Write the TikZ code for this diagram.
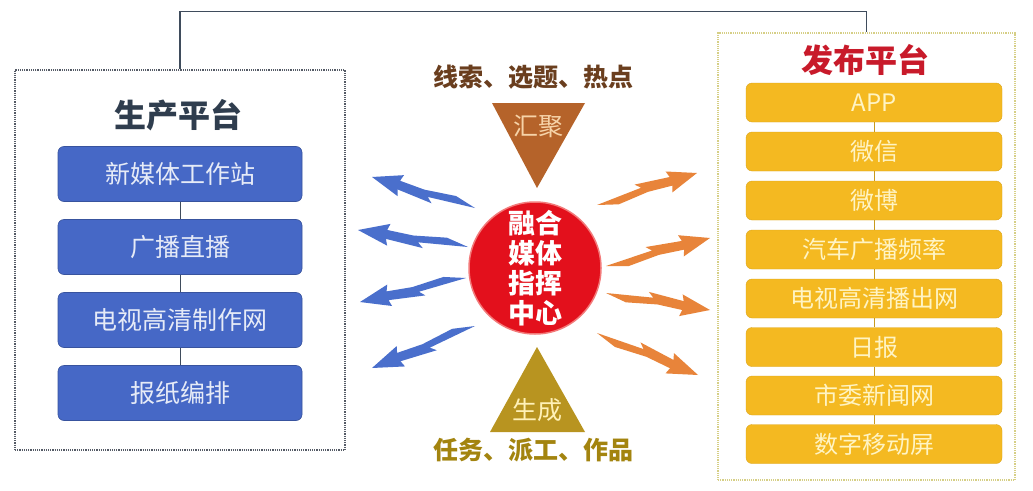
\documentclass[tikz,border=0pt]{standalone}
\usepackage{fontspec}
\setmainfont{Noto Sans CJK SC}
\usetikzlibrary{calc}
\definecolor{frameL}{HTML}{555B66}
\definecolor{frameR}{HTML}{D6CF86}
\definecolor{linkC}{HTML}{3F4C5C}
\definecolor{blueBox}{HTML}{4668C6}
\definecolor{blueTxt}{HTML}{E6EBF7}
\definecolor{yelBox}{HTML}{F4B921}
\definecolor{yelTxt}{HTML}{FFF4C4}
\definecolor{yelLink}{HTML}{C89A1E}
\definecolor{hubRed}{HTML}{E3101C}
\definecolor{hubEdge}{HTML}{F37A7A}
\definecolor{triTop}{HTML}{B5632A}
\definecolor{triTopTxt}{HTML}{F6D3A8}
\definecolor{triBot}{HTML}{B89420}
\definecolor{triBotTxt}{HTML}{FFF1B8}
\definecolor{topTxt}{HTML}{6A3E1E}
\definecolor{botTxt}{HTML}{A3840F}
\definecolor{arrBlue}{HTML}{4A6FCC}
\definecolor{arrOrange}{HTML}{E8843A}
\definecolor{titleL}{HTML}{2F3D4E}
\definecolor{titleR}{HTML}{C81A2A}
\tikzset{
  bluebox/.style={rectangle, rounded corners=6pt, fill=blueBox, draw=blueBox!80!black, line width=0.6pt,
    minimum width=244pt, minimum height=55pt, text=blueTxt, font=\fontsize{25}{27}\selectfont, inner sep=0pt},
  yelbox/.style={rectangle, rounded corners=6pt, fill=yelBox, draw=yelBox!90!black, line width=0.4pt,
    minimum width=256pt, minimum height=39pt, text=yelTxt, font=\fontsize{24}{26}\selectfont, inner sep=0pt},
  jagarrow/.style={to path={
    -- ($(\tikztostart)!0.45!(\tikztotarget)!3pt!90:(\tikztotarget)$)
    -- ($(\tikztostart)!0.40!(\tikztotarget)!8pt!90:(\tikztotarget)$)
    -- ($(\tikztostart)!0.74!(\tikztotarget)!4.5pt!90:(\tikztotarget)$)
    -- ($(\tikztostart)!0.72!(\tikztotarget)!11pt!90:(\tikztotarget)$)
    -- (\tikztotarget)
    -- ($(\tikztostart)!0.72!(\tikztotarget)!11pt!-90:(\tikztotarget)$)
    -- ($(\tikztostart)!0.74!(\tikztotarget)!4.5pt!-90:(\tikztotarget)$)
    -- ($(\tikztostart)!0.50!(\tikztotarget)!3pt!-90:(\tikztotarget)$)
    -- ($(\tikztostart)!0.20!(\tikztotarget)!6pt!-90:(\tikztotarget)$)
    -- cycle}}
}
\begin{document}
\begin{tikzpicture}[x=1pt,y=-1pt]
\useasboundingbox (0,0) rectangle (1033,490);
\fill[white] (0,0) rectangle (1033,490);

% frames
\node[draw=frameL, densely dotted, line width=1.2pt, minimum width=330pt, minimum height=380pt, inner sep=0pt] (lf) at (180,260) {};
\node[draw=frameR, densely dotted, line width=1.2pt, minimum width=297pt, minimum height=447pt, inner sep=0pt] (rf) at (866.5,256.5) {};
\draw[linkC, line width=1.3pt] (lf.north) -- ++(0,-58) -| (rf.north);

% titles
\node[font=\fontsize{32}{34}\selectfont\bfseries, text=titleL] (tl) at (178,115) {生产平台};
\node[font=\fontsize{32}{34}\selectfont\bfseries, text=titleR] (tr) at (865,60) {发布平台};

% left boxes
\node[bluebox] (b1) at (180,174) {新媒体工作站};
\node[bluebox] (b2) at (180,247) {广播直播};
\node[bluebox] (b3) at (180,320) {电视高清制作网};
\node[bluebox] (b4) at (180,393) {报纸编排};
\draw[linkC, line width=1pt] (b1) -- (b2) (b2) -- (b3) (b3) -- (b4);

% right boxes
\node[yelbox] (y1) at (874,102.5) {APP};
\node[yelbox] (y2) at (874,151.5) {微信};
\node[yelbox] (y3) at (874,200.5) {微博};
\node[yelbox] (y4) at (874,249.5) {汽车广播频率};
\node[yelbox] (y5) at (874,298.5) {电视高清播出网};
\node[yelbox] (y6) at (874,347) {日报};
\node[yelbox] (y7) at (874,395.5) {市委新闻网};
\node[yelbox] (y8) at (874,444) {数字移动屏};
\draw[yelLink, line width=0.8pt] (y1) -- (y2) (y2) -- (y3) (y3) -- (y4) (y4) -- (y5) (y5) -- (y6) (y6) -- (y7) (y7) -- (y8);

% hub
\node[circle, fill=hubRed, draw=hubEdge, line width=1.5pt, minimum size=132pt, inner sep=0pt] (hub) at (535,268) {};
\node[text=white, font=\fontsize{27}{30}\selectfont\bfseries, align=center] (hubtxt) at (535,268) {融合\\媒体\\指挥\\中心};

% triangles
\fill[triTop] (492,103) -- (585,103) -- (537,188) -- cycle;
\node[text=triTopTxt, font=\fontsize{25}{27}\selectfont] (hj) at (538,126) {汇聚};
\fill[triBot] (537,347) -- (585,432) -- (490,432) -- cycle;
\node[text=triBotTxt, font=\fontsize{25}{27}\selectfont] (sc) at (537,410) {生成};
\node[text=topTxt, font=\fontsize{25}{27}\selectfont\bfseries] (tt) at (533,77) {线索、选题、热点};
\node[text=botTxt, font=\fontsize{25}{27}\selectfont\bfseries] (bt) at (533,450) {任务、派工、作品};

% arrows
\coordinate (lt1) at (475,208); \coordinate (lh1) at (372,177);
\coordinate (lt2) at (468,247); \coordinate (lh2) at (358,230);
\coordinate (lt3) at (466,278); \coordinate (lh3) at (360,302);
\coordinate (lt4) at (475,326); \coordinate (lh4) at (372,368);
\coordinate (rt1) at (597,205); \coordinate (rh1) at (697,173);
\coordinate (rt2) at (606,266); \coordinate (rh2) at (710,238);
\coordinate (rt3) at (606,293); \coordinate (rh3) at (710,310);
\coordinate (rt4) at (597,333); \coordinate (rh4) at (698,375);
\foreach \i in {1,2,3,4}{
  \fill[arrBlue] (lt\i) to[jagarrow] (lh\i);
  \fill[arrOrange] (rt\i) to[jagarrow] (rh\i);
}
\end{tikzpicture}
\end{document}
